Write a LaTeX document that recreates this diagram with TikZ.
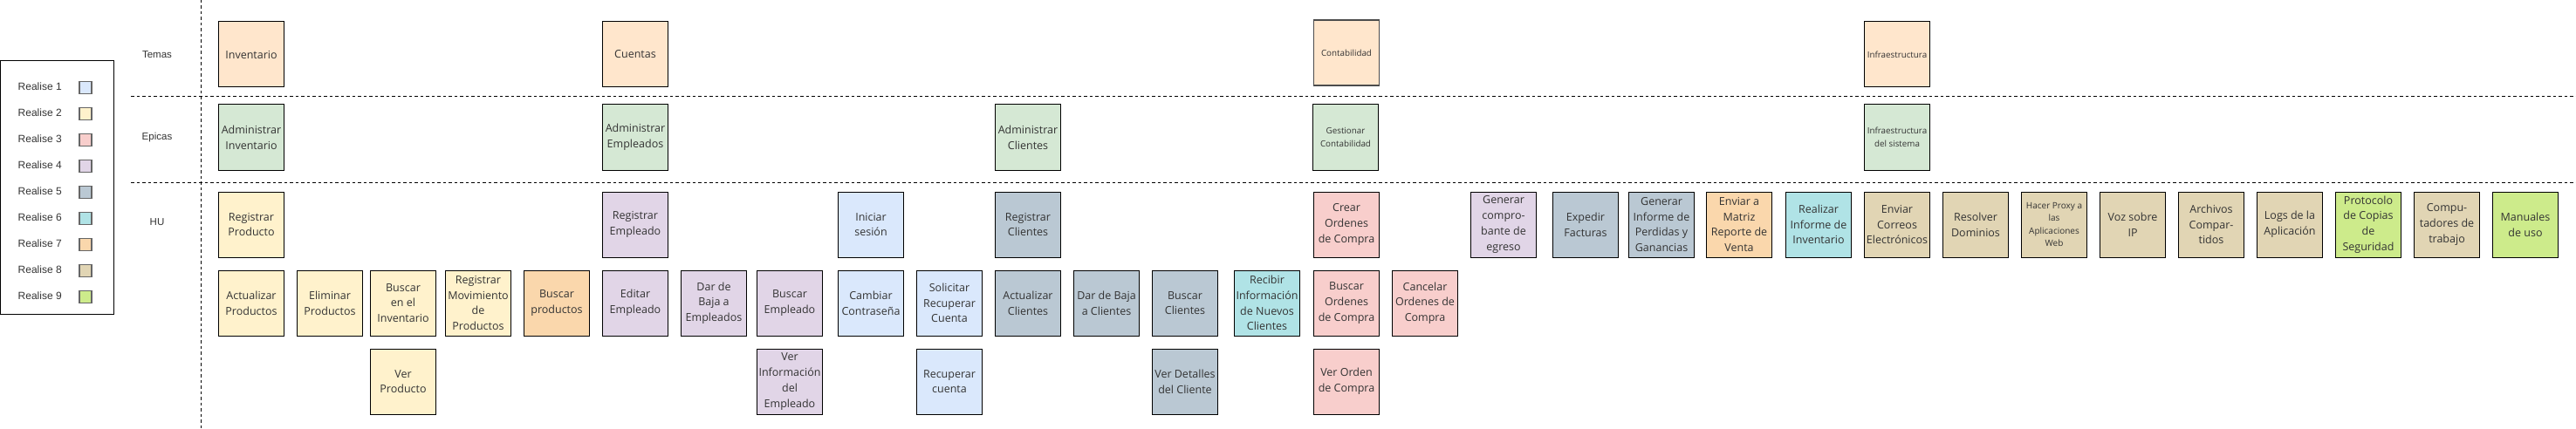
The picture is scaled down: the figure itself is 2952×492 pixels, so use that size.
\documentclass[tikz,border=0pt]{standalone}
\usepackage{fontspec}
\setmainfont{Open Sans}
\newfontfamily\legfont{Liberation Sans}

\definecolor{r1}{HTML}{DAE8FC}
\definecolor{r2}{HTML}{FFF2CC}
\definecolor{r3}{HTML}{F8CECC}
\definecolor{r4}{HTML}{E1D5E7}
\definecolor{r5}{HTML}{BAC8D3}
\definecolor{r6}{HTML}{B0E3E6}
\definecolor{r7}{HTML}{FAD7AC}
\definecolor{r8}{HTML}{E1D5B4}
\definecolor{r9}{HTML}{CDEB8B}
\definecolor{temacol}{HTML}{FFE6CC}
\definecolor{epicacol}{HTML}{D5E8D4}
\definecolor{txt}{HTML}{333333}

\begin{document}
\begin{tikzpicture}[x=1pt, y=-1pt,
    tarjeta/.style={draw=black, line width=1pt, minimum width=75pt, minimum height=75pt,
        inner sep=0pt, align=center, text=txt, font=\fontsize{12.5}{17.7}\selectfont},
    pequena/.style={font=\fontsize{9.8}{15}\selectfont},
    tema/.style={tarjeta, fill=temacol},
    epica/.style={tarjeta, fill=epicacol},
    leyenda/.style={text=txt, font=\legfont\fontsize{12}{14}\selectfont, inner sep=0pt},
    fila/.style={text=txt, font=\legfont\fontsize{11.5}{14}\selectfont, inner sep=0pt},
    muestra/.style={draw=black!60, line width=1.3pt, minimum size=14pt, inner sep=0pt},
    separador/.style={line width=0.9pt, dash pattern=on 3.5pt off 3pt}]
    \useasboundingbox (0,0) rectangle (2952,492);

    % 1. Leyenda de releases
    \draw[line width=1pt] (0.5,70) rectangle (130,360);
    \foreach \k in {1,...,9} {
        \node[leyenda, anchor=west] (ley\k) at (20.5,{99.5+30*(\k-1)}) {Realise \k};
        \node[muestra, fill=r\k] (mue\k) at (98,{100.5+30*(\k-1)}) {};
    }

    % 2. Separadores y nombres de filas
    \draw[separador] (230.3,0) -- (230.3,492);
    \draw[separador] (150,110) -- (2952,110);
    \draw[separador] (150,209.5) -- (2952,209.5);
    \node[fila] (temas) at (180,62.5) {Temas};
    \node[fila] (epicas) at (180,157.5) {Epicas};
    \node[fila] (hu) at (180,254.5) {HU};

    % 3. Temas
    \node[tema] (inventario) at (288,62.5) {Inventario};
    \node[tema] (cuentas) at (728,62.5) {Cuentas};
    \node[tema, pequena, draw=black!70, line width=1.3pt] (contabilidad) at (1543,60.5) {Contabilidad};
    \node[tema, pequena] (infra) at (2174,62.5) {Infraestructura};

    % 4. Epicas
    \node[epica] (adminv) at (288,157.5) {Administrar\\Inventario};
    \node[epica] (admemp) at (728,157.5) {Administrar\\Empleados};
    \node[epica] (admcli) at (1178,157.5) {Administrar\\Clientes};
    \node[epica, pequena] (gescont) at (1542,157.5) {Gestionar\\Contabilidad};
    \node[epica, pequena] (infrasis) at (2174,157.5) {Infraestructura\\del sistema};

    % 5. Historias de usuario, primera fila
    \node[tarjeta, fill=r2] (regprod) at (288,257.5) {Registrar\\Producto};
    \node[tarjeta, fill=r4] (regemp) at (728,257.5) {Registrar\\Empleado};
    \node[tarjeta, fill=r1] (inises) at (998,257.5) {Iniciar\\sesión};
    \node[tarjeta, fill=r5] (regcli) at (1178,257.5) {Registrar\\Clientes};
    \node[tarjeta, fill=r3] (creaord) at (1543,257.5) {Crear\\Ordenes\\de Compra};
    \node[tarjeta, fill=r4] (genegr) at (1723,257.5) {Generar\\compro-\\bante de\\egreso};
    \node[tarjeta, fill=r5] (expfac) at (1817,257.5) {Expedir\\Facturas};
    \node[tarjeta, fill=r5] (geninf) at (1904,257.5) {Generar\\Informe de\\Perdidas y\\Ganancias};
    \node[tarjeta, fill=r7] (envmat) at (1993,257.5) {Enviar a\\Matriz\\Reporte de\\Venta};
    \node[tarjeta, fill=r6] (realinf) at (2084,257.5) {Realizar\\Informe de\\Inventario};
    \node[tarjeta, fill=r8] (envcor) at (2174,257.5) {Enviar\\Correos\\Electrónicos};
    \node[tarjeta, fill=r8] (resdom) at (2264,257.5) {Resolver\\Dominios};
    \node[tarjeta, fill=r8, font=\fontsize{10}{14.3}\selectfont] (proxy) at (2354,257.5) {Hacer Proxy a\\las\\Aplicaciones\\Web};
    \node[tarjeta, fill=r8] (voz) at (2444,257.5) {Voz sobre\\IP};
    \node[tarjeta, fill=r8] (archiv) at (2534,257.5) {Archivos\\Compar-\\tidos};
    \node[tarjeta, fill=r8] (logs) at (2624,257.5) {Logs de la\\Aplicación};
    \node[tarjeta, fill=r9] (copias) at (2714,257.5) {Protocolo\\de Copias\\de\\Seguridad};
    \node[tarjeta, fill=r8] (compu) at (2804,257.5) {Compu-\\tadores de\\trabajo};
    \node[tarjeta, fill=r9] (manual) at (2894,257.5) {Manuales\\de uso};

    % 6. Segunda fila
    \node[tarjeta, fill=r2] (actprod) at (288,347.5) {Actualizar\\Productos};
    \node[tarjeta, fill=r2] (elimprod) at (378,347.5) {Eliminar\\Productos};
    \node[tarjeta, fill=r2] (businv) at (462,347.5) {Buscar\\en el\\Inventario};
    \node[tarjeta, fill=r2] (regmov) at (548,347.5) {Registrar\\Movimiento\\de\\Productos};
    \node[tarjeta, fill=r7] (busprod) at (638,347.5) {Buscar\\productos};
    \node[tarjeta, fill=r4] (editemp) at (728,347.5) {Editar\\Empleado};
    \node[tarjeta, fill=r4] (bajaemp) at (818,347.5) {Dar de\\Baja a\\Empleados};
    \node[tarjeta, fill=r4] (busemp) at (905,347.5) {Buscar\\Empleado};
    \node[tarjeta, fill=r1] (camcon) at (998,347.5) {Cambiar\\Contraseña};
    \node[tarjeta, fill=r1] (solrec) at (1088,347.5) {Solicitar\\Recuperar\\Cuenta};
    \node[tarjeta, fill=r5] (actcli) at (1178,347.5) {Actualizar\\Clientes};
    \node[tarjeta, fill=r5] (bajacli) at (1268,347.5) {Dar de Baja\\a Clientes};
    \node[tarjeta, fill=r5] (buscli) at (1358,347.5) {Buscar\\Clientes};
    \node[tarjeta, fill=r6] (recinf) at (1452,347.5) {Recibir\\Información\\de Nuevos\\Clientes};
    \node[tarjeta, fill=r3] (busord) at (1543,347.5) {Buscar\\Ordenes\\de Compra};
    \node[tarjeta, fill=r3] (canord) at (1633,347.5) {Cancelar\\Ordenes de\\Compra};

    % 7. Tercera fila
    \node[tarjeta, fill=r2] (verprod) at (462,437.5) {Ver\\Producto};
    \node[tarjeta, fill=r4] (verinfemp) at (905,437.5) {Ver\\Información\\del\\Empleado};
    \node[tarjeta, fill=r1] (reccta) at (1088,437.5) {Recuperar\\cuenta};
    \node[tarjeta, fill=r5] (verdet) at (1358,437.5) {Ver Detalles\\del Cliente};
    \node[tarjeta, fill=r3] (verord) at (1543,437.5) {Ver Orden\\de Compra};
\end{tikzpicture}
\end{document}
